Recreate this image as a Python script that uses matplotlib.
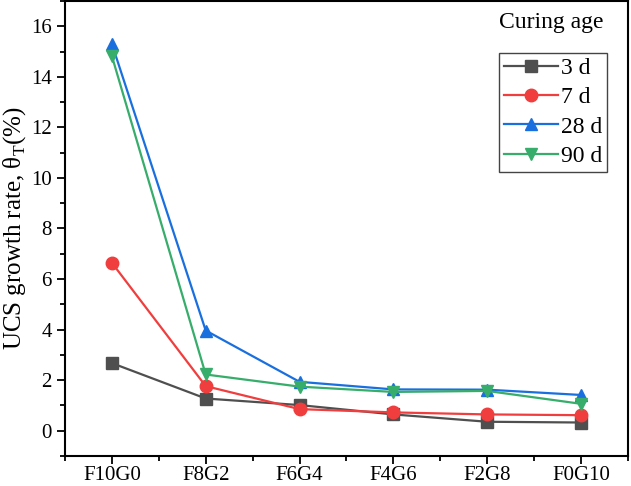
import matplotlib
matplotlib.use("Agg")
import matplotlib.pyplot as plt
from matplotlib.ticker import MultipleLocator

plt.rcParams['font.family'] = ['Liberation Serif', 'DejaVu Serif']
plt.rcParams['mathtext.fontset'] = 'custom'
plt.rcParams['mathtext.rm'] = 'Liberation Serif'

groups = ['F10G0', 'F8G2', 'F6G4', 'F4G6', 'F2G8', 'F0G10']
ages = ['3 d', '7 d', '28 d', '90 d']
d3 = [2.67, 1.27, 1.01, 0.64, 0.35, 0.32]
d7 = [6.64, 1.76, 0.85, 0.72, 0.64, 0.61]
d28 = [15.3, 3.96, 1.93, 1.63, 1.62, 1.41]
d90 = [14.82, 2.22, 1.74, 1.53, 1.57, 1.06]

series = [d3, d7, d28, d90]
colors = ['#4f4f4f', '#f03e3e', '#1a6fdf', '#37ad6b']
markers = ['s', 'o', '^', 'v']

fig = plt.figure(figsize=(6.31, 4.86), dpi=100)
ax = fig.add_axes([0.103, 0.062, 0.892, 0.936])

x = list(range(len(groups)))
for vals, lab, c, m in zip(series, ages, colors, markers):
    ax.plot(x, vals, color=c, marker=m, markersize=9, linewidth=1.6, label=lab)

ax.set_xlim(-0.5, 5.5)
ax.set_ylim(-1, 17)
ax.set_xticks(x)
ax.set_xticklabels(groups)
ax.xaxis.set_minor_locator(MultipleLocator(0.5))
ax.yaxis.set_major_locator(MultipleLocator(2))
ax.yaxis.set_minor_locator(MultipleLocator(1))
ax.tick_params(which='major', direction='out', length=6, width=1.3, labelsize=15)
ax.tick_params(which='minor', direction='out', length=3.5, width=1.3)
ax.tick_params(axis='x', which='major', pad=1.5)
for s in ax.spines.values():
    s.set_linewidth(1.5)

ax.set_ylabel('UCS growth rate, θ$_{\\mathrm{T}}$(%)', fontsize=18, labelpad=2)

leg = ax.legend(loc='upper right', bbox_to_anchor=(0.963, 0.886), fontsize=17,
                handlelength=2.3, handletextpad=0.12, borderpad=0.2,
                labelspacing=0.33, borderaxespad=0, fancybox=False,
                edgecolor='#444444', framealpha=1)
leg.get_frame().set_linewidth(1.0)
ax.text(0.957, 0.952, 'Curing age', transform=ax.transAxes, fontsize=17,
        ha='right', va='center')

fig.savefig('out.png', dpi=100)
